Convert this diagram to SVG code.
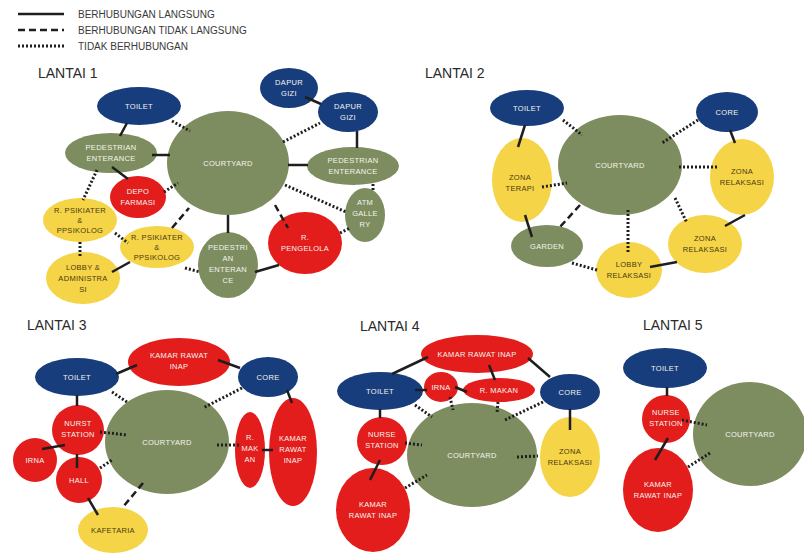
<svg xmlns="http://www.w3.org/2000/svg" width="804" height="554" viewBox="0 0 804 554">
<style>
.bg{fill:#ffffff}
.b{fill:#183d7c}
.r{fill:#e31c1c}
.g{fill:#7e8d5f}
.y{fill:#f5d447}
text{font-family:"Liberation Sans",Arial,sans-serif}
.t{font-size:7.5px;fill:#f4f4ee;text-anchor:middle;letter-spacing:0.3px}
.ty{font-size:7.5px;fill:#4a3a10;text-anchor:middle;letter-spacing:0.3px}
.h{font-size:14px;fill:#2a2a2a}
.lg{font-size:10px;fill:#3a3a3a}
.s{stroke:#1e1e1e;stroke-width:2.5;fill:none}
.d{stroke:#1e1e1e;stroke-width:2.5;fill:none;stroke-dasharray:7 4}
.o{stroke:#1e1e1e;stroke-width:3;fill:none;stroke-dasharray:2 2}
</style>
<rect class="bg" x="0" y="0" width="804" height="554"/>

<g id="legend">
<line class="s" x1="18" y1="14" x2="64" y2="14"/>
<line class="d" x1="18" y1="30" x2="64" y2="30"/>
<line class="o" x1="18" y1="46" x2="64" y2="46"/>
<text class="lg" x="78" y="18">BERHUBUNGAN LANGSUNG</text>
<text class="lg" x="78" y="34">BERHUBUNGAN TIDAK LANGSUNG</text>
<text class="lg" x="78" y="50">TIDAK BERHUBUNGAN</text>
</g>

<g id="titles">
<text class="h" x="38" y="78">LANTAI 1</text>
<text class="h" x="425" y="78">LANTAI 2</text>
<text class="h" x="27" y="330">LANTAI 3</text>
<text class="h" x="360" y="331">LANTAI 4</text>
<text class="h" x="643" y="330">LANTAI 5</text>
</g>

<!-- ===== LANTAI 1 ===== -->
<g id="l1-toilet"><ellipse class="b" cx="139" cy="106" rx="42" ry="19"/><text class="t" x="139" y="109">TOILET</text></g>
<g id="l1-ped-ent-left"><ellipse class="g" cx="111" cy="153" rx="46" ry="20"/><text class="t" x="111" y="150">PEDESTRIAN</text><text class="t" x="111" y="161">ENTERANCE</text></g>
<g id="l1-depo"><ellipse class="r" cx="138" cy="197" rx="28" ry="21"/><text class="t" x="138" y="194">DEPO</text><text class="t" x="138" y="205">FARMASI</text></g>
<g id="l1-psikiater-left"><ellipse class="y" cx="80" cy="220" rx="37" ry="22"/><text class="ty" x="80" y="213">R. PSIKIATER</text><text class="ty" x="80" y="223">&amp;</text><text class="ty" x="80" y="233">PPSIKOLOG</text></g>
<g id="l1-psikiater-right"><ellipse class="y" cx="157" cy="247" rx="37" ry="21"/><text class="ty" x="157" y="240">R. PSIKIATER</text><text class="ty" x="157" y="250">&amp;</text><text class="ty" x="157" y="260">PPSIKOLOG</text></g>
<g id="l1-lobby"><ellipse class="y" cx="83" cy="278" rx="37" ry="26"/><text class="ty" x="83" y="270">LOBBY &amp;</text><text class="ty" x="83" y="281">ADMINISTRA</text><text class="ty" x="83" y="292">SI</text></g>
<g id="l1-courtyard"><ellipse class="g" cx="228" cy="163" rx="61" ry="52"/><text class="t" x="228" y="166">COURTYARD</text></g>
<g id="l1-dapur1"><ellipse class="b" cx="289" cy="88" rx="29" ry="20"/><text class="t" x="289" y="85">DAPUR</text><text class="t" x="289" y="96">GIZI</text></g>
<g id="l1-dapur2"><ellipse class="b" cx="348" cy="112" rx="30" ry="20"/><text class="t" x="348" y="109">DAPUR</text><text class="t" x="348" y="120">GIZI</text></g>
<g id="l1-ped-ent-right"><ellipse class="g" cx="353" cy="166" rx="46" ry="19"/><text class="t" x="353" y="163">PEDESTRIAN</text><text class="t" x="353" y="174">ENTERANCE</text></g>
<g id="l1-atm"><ellipse class="g" cx="365" cy="215" rx="20" ry="27"/><text class="t" x="365" y="205">ATM</text><text class="t" x="365" y="216">GALLE</text><text class="t" x="365" y="227">RY</text></g>
<g id="l1-pengelola"><ellipse class="r" cx="305" cy="243" rx="37" ry="31"/><text class="t" x="305" y="240">R.</text><text class="t" x="305" y="251">PENGELOLA</text></g>
<g id="l1-ped-ent-bottom"><ellipse class="g" cx="228" cy="265" rx="30" ry="33"/><text class="t" x="228" y="250">PEDESTRI</text><text class="t" x="228" y="261">AN</text><text class="t" x="228" y="272">ENTERAN</text><text class="t" x="228" y="283">CE</text></g>

<!-- ===== LANTAI 2 ===== -->
<g id="l2-toilet"><ellipse class="b" cx="527" cy="108" rx="37" ry="18"/><text class="t" x="527" y="111">TOILET</text></g>
<g id="l2-core"><ellipse class="b" cx="727" cy="112" rx="31" ry="20"/><text class="t" x="727" y="115">CORE</text></g>
<g id="l2-courtyard"><ellipse class="g" cx="620" cy="165" rx="62" ry="50"/><text class="t" x="620" y="168">COURTYARD</text></g>
<g id="l2-zona-terapi"><ellipse class="y" cx="522" cy="180" rx="30" ry="42"/><text class="ty" x="520" y="180">ZONA</text><text class="ty" x="520" y="191">TERAPI</text></g>
<g id="l2-zona-relaksasi-1"><ellipse class="y" cx="742" cy="177" rx="32" ry="38"/><text class="ty" x="742" y="174">ZONA</text><text class="ty" x="742" y="185">RELAKSASI</text></g>
<g id="l2-garden"><ellipse class="g" cx="547" cy="246" rx="36" ry="21"/><text class="t" x="547" y="249">GARDEN</text></g>
<g id="l2-lobby"><ellipse class="y" cx="629" cy="270" rx="33" ry="28"/><text class="ty" x="629" y="267">LOBBY</text><text class="ty" x="629" y="278">RELAKSASI</text></g>
<g id="l2-zona-relaksasi-2"><ellipse class="y" cx="705" cy="244" rx="37" ry="29"/><text class="ty" x="705" y="241">ZONA</text><text class="ty" x="705" y="252">RELAKSASI</text></g>

<!-- ===== LANTAI 3 ===== -->
<g id="l3-kamar-top"><ellipse class="r" cx="179" cy="362" rx="51" ry="24"/><text class="t" x="179" y="358">KAMAR RAWAT</text><text class="t" x="179" y="369">INAP</text></g>
<g id="l3-toilet"><ellipse class="b" cx="77" cy="377" rx="42" ry="19"/><text class="t" x="77" y="380">TOILET</text></g>
<g id="l3-core"><ellipse class="b" cx="268" cy="377" rx="30" ry="20"/><text class="t" x="268" y="380">CORE</text></g>
<g id="l3-courtyard"><ellipse class="g" cx="167" cy="442" rx="62" ry="52"/><text class="t" x="167" y="445">COURTYARD</text></g>
<g id="l3-nurse"><ellipse class="r" cx="78" cy="430" rx="26" ry="25"/><text class="t" x="78" y="426">NURST</text><text class="t" x="78" y="437">STATION</text></g>
<g id="l3-irna"><ellipse class="r" cx="35" cy="460" rx="22" ry="22"/><text class="t" x="35" y="463">IRNA</text></g>
<g id="l3-hall"><ellipse class="r" cx="79" cy="480" rx="23" ry="23"/><text class="t" x="79" y="483">HALL</text></g>
<g id="l3-kafetaria"><ellipse class="y" cx="113" cy="530" rx="35" ry="23"/><text class="ty" x="113" y="533">KAFETARIA</text></g>
<g id="l3-rmakan"><ellipse class="r" cx="250" cy="450" rx="15" ry="38"/><text class="t" x="250" y="440">R.</text><text class="t" x="250" y="451">MAK</text><text class="t" x="250" y="462">AN</text></g>
<g id="l3-kamar-right"><ellipse class="r" cx="293" cy="452" rx="24" ry="54"/><text class="t" x="293" y="441">KAMAR</text><text class="t" x="293" y="452">RAWAT</text><text class="t" x="293" y="463">INAP</text></g>

<!-- ===== LANTAI 4 ===== -->
<g id="l4-kamar-top"><ellipse class="r" cx="477" cy="354" rx="56" ry="19"/><text class="t" x="477" y="357">KAMAR RAWAT INAP</text></g>
<g id="l4-toilet"><ellipse class="b" cx="380" cy="391" rx="43" ry="19"/><text class="t" x="380" y="394">TOILET</text></g>
<g id="l4-irna"><ellipse class="r" cx="441" cy="387" rx="17" ry="15"/><text class="t" x="441" y="390">IRNA</text></g>
<g id="l4-rmakan"><ellipse class="r" cx="499" cy="390" rx="36" ry="12"/><text class="t" x="499" y="393">R. MAKAN</text></g>
<g id="l4-core"><ellipse class="b" cx="570" cy="392" rx="30" ry="18"/><text class="t" x="570" y="395">CORE</text></g>
<g id="l4-courtyard"><ellipse class="g" cx="472" cy="455" rx="65" ry="52"/><text class="t" x="472" y="458">COURTYARD</text></g>
<g id="l4-nurse"><ellipse class="r" cx="382" cy="441" rx="25" ry="24"/><text class="t" x="382" y="437">NURSE</text><text class="t" x="382" y="448">STATION</text></g>
<g id="l4-zona"><ellipse class="y" cx="570" cy="457" rx="30" ry="40"/><text class="ty" x="570" y="454">ZONA</text><text class="ty" x="570" y="465">RELAKSASI</text></g>
<g id="l4-kamar-bottom"><ellipse class="r" cx="373" cy="510" rx="37" ry="42"/><text class="t" x="373" y="507">KAMAR</text><text class="t" x="373" y="518">RAWAT INAP</text></g>

<!-- ===== LANTAI 5 ===== -->
<g id="l5-toilet"><ellipse class="b" cx="665" cy="368" rx="42" ry="20"/><text class="t" x="665" y="371">TOILET</text></g>
<g id="l5-nurse"><ellipse class="r" cx="666" cy="419" rx="24" ry="24"/><text class="t" x="666" y="415">NURSE</text><text class="t" x="666" y="426">STATION</text></g>
<g id="l5-kamar"><ellipse class="r" cx="658" cy="490" rx="35" ry="42"/><text class="t" x="658" y="487">KAMAR</text><text class="t" x="658" y="498">RAWAT INAP</text></g>
<g id="l5-courtyard"><ellipse class="g" cx="750" cy="434" rx="57" ry="52"/><text class="t" x="750" y="437">COURTYARD</text></g>

<g id="connectors">
<!-- Lantai 1 -->
<line class="s" x1="127" y1="123" x2="120" y2="136"/>
<line class="o" x1="172" y1="121" x2="190" y2="131"/>
<line class="s" x1="152" y1="155" x2="170" y2="155"/>
<line class="s" x1="112" y1="167" x2="128" y2="179"/>
<line class="o" x1="164" y1="192" x2="178" y2="183"/>
<line class="o" x1="97" y1="170" x2="83" y2="200"/>
<line class="o" x1="115" y1="233" x2="128" y2="243"/>
<line class="o" x1="80" y1="242" x2="80" y2="256"/>
<line class="s" x1="112" y1="272" x2="130" y2="262"/>
<line class="d" x1="172" y1="228" x2="189" y2="208"/>
<line class="o" x1="185" y1="268" x2="200" y2="272"/>
<line class="s" x1="228" y1="215" x2="228" y2="233"/>
<line class="s" x1="255" y1="272" x2="279" y2="265"/>
<line class="d" x1="275" y1="205" x2="288" y2="228"/>
<line class="o" x1="285" y1="185" x2="346" y2="212"/>
<line class="o" x1="340" y1="233" x2="350" y2="228"/>
<line class="o" x1="373" y1="184" x2="373" y2="190"/>
<line class="s" x1="288" y1="165" x2="308" y2="165"/>
<line class="o" x1="283" y1="142" x2="320" y2="123"/>
<line class="s" x1="305" y1="97" x2="321" y2="104"/>
<line class="s" x1="357" y1="131" x2="357" y2="148"/>
<!-- Lantai 2 -->
<line class="s" x1="525" y1="125" x2="518" y2="147"/>
<line class="o" x1="563" y1="120" x2="582" y2="135"/>
<line class="o" x1="698" y1="120" x2="662" y2="143"/>
<line class="s" x1="730" y1="130" x2="735" y2="143"/>
<line class="o" x1="717" y1="167" x2="678" y2="167"/>
<line class="o" x1="542" y1="187" x2="567" y2="183"/>
<line class="s" x1="525" y1="215" x2="532" y2="237"/>
<line class="d" x1="580" y1="205" x2="560" y2="227"/>
<line class="o" x1="628" y1="210" x2="628" y2="252"/>
<line class="o" x1="675" y1="198" x2="687" y2="223"/>
<line class="s" x1="745" y1="215" x2="725" y2="226"/>
<line class="o" x1="572" y1="263" x2="597" y2="270"/>
<line class="s" x1="650" y1="267" x2="677" y2="262"/>
<!-- Lantai 3 -->
<line class="s" x1="116" y1="374" x2="137" y2="365"/>
<line class="s" x1="218" y1="360" x2="240" y2="368"/>
<line class="o" x1="112" y1="392" x2="127" y2="402"/>
<line class="o" x1="242" y1="388" x2="203" y2="408"/>
<line class="s" x1="287" y1="390" x2="292" y2="403"/>
<line class="s" x1="77" y1="395" x2="77" y2="406"/>
<line class="o" x1="100" y1="432" x2="127" y2="435"/>
<line class="s" x1="65" y1="445" x2="42" y2="449"/>
<line class="s" x1="77" y1="454" x2="77" y2="468"/>
<line class="o" x1="100" y1="468" x2="112" y2="460"/>
<line class="s" x1="88" y1="498" x2="98" y2="515"/>
<line class="d" x1="143" y1="483" x2="123" y2="507"/>
<line class="o" x1="217" y1="445" x2="240" y2="445"/>
<line class="s" x1="262" y1="450" x2="273" y2="450"/>
<!-- Lantai 4 -->
<line class="s" x1="428" y1="357" x2="392" y2="374"/>
<line class="s" x1="489" y1="365" x2="495" y2="380"/>
<line class="s" x1="528" y1="358" x2="550" y2="377"/>
<line class="s" x1="415" y1="390" x2="427" y2="390"/>
<line class="s" x1="455" y1="387" x2="467" y2="392"/>
<line class="o" x1="415" y1="405" x2="432" y2="417"/>
<line class="o" x1="450" y1="397" x2="453" y2="410"/>
<line class="o" x1="498" y1="402" x2="497" y2="413"/>
<line class="o" x1="543" y1="402" x2="505" y2="420"/>
<line class="s" x1="570" y1="409" x2="570" y2="430"/>
<line class="s" x1="380" y1="409" x2="380" y2="418"/>
<line class="o" x1="405" y1="443" x2="422" y2="445"/>
<line class="s" x1="380" y1="460" x2="370" y2="480"/>
<line class="o" x1="405" y1="488" x2="427" y2="475"/>
<line class="o" x1="517" y1="457" x2="538" y2="456"/>
<!-- Lantai 5 -->
<line class="s" x1="667" y1="387" x2="667" y2="396"/>
<line class="o" x1="682" y1="420" x2="707" y2="425"/>
<line class="s" x1="668" y1="438" x2="655" y2="460"/>
<line class="o" x1="688" y1="467" x2="710" y2="453"/>
</g>
</svg>
